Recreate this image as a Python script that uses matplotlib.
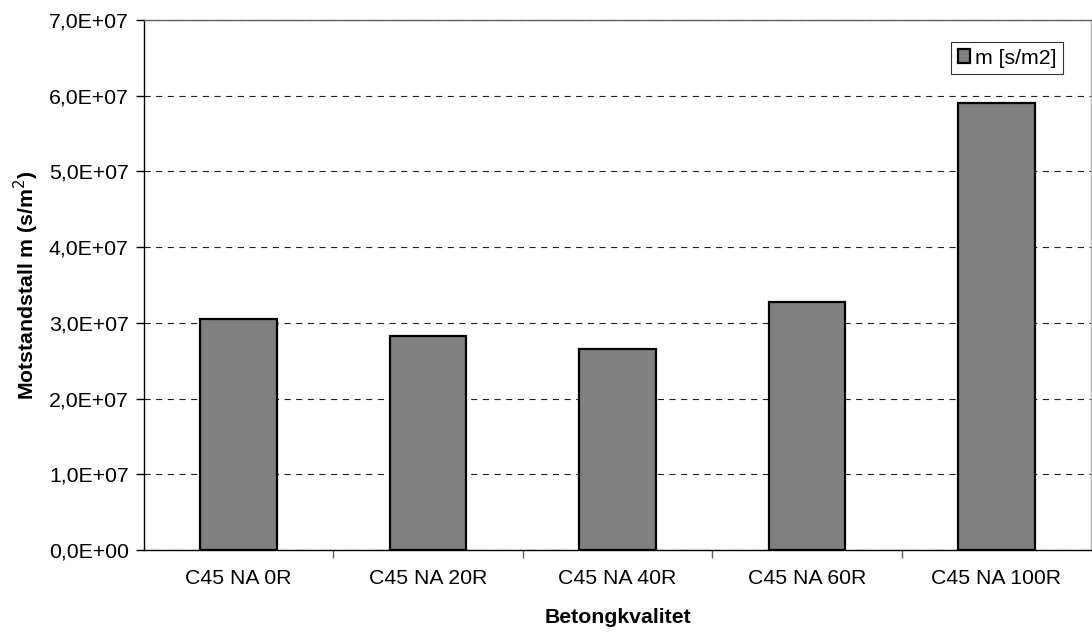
import matplotlib
matplotlib.use("Agg")
import matplotlib.pyplot as plt
from matplotlib.ticker import FuncFormatter, MultipleLocator, FixedLocator
import numpy as np

categories = ["C45 NA 0R", "C45 NA 20R", "C45 NA 40R", "C45 NA 60R", "C45 NA 100R"]
values = [3.05e7, 2.82e7, 2.65e7, 3.27e7, 5.90e7]
series_label = "m [s/m2]"

plt.rcParams['font.family'] = ['Liberation Sans', 'DejaVu Sans']
FS = 15.3

fig = plt.figure(figsize=(10.92, 6.32), dpi=100)
ax = fig.add_axes([144/1092, 1-550/632, (1091-144)/1092, (550-20)/632])

x = np.arange(len(categories))
ax.bar(x, values, width=0.405, color='#808080', edgecolor='black', linewidth=1.6,
       label=series_label, zorder=3)

ax.set_xlim(-0.5, len(categories)-0.5)
ax.set_ylim(0, 7e7)
ax.yaxis.set_major_locator(MultipleLocator(1e7))
ax.yaxis.set_major_formatter(FuncFormatter(lambda v, p: f"{v:.1E}".replace('.', ',')))
ax.yaxis.grid(True, color='#202020', linestyle=(0, (5.5, 5)), linewidth=0.8, zorder=0)

# category labels without ticks, ticks at category boundaries
ax.set_xticks(x)
ax.set_xticklabels(categories, fontsize=FS)
ax.tick_params(axis='x', which='major', length=0, pad=14)
ax.xaxis.set_minor_locator(FixedLocator(np.arange(0.5, len(categories)-0.5, 1.0)))
ax.tick_params(axis='x', which='minor', length=6, width=1, color='#606060', direction='out')
ax.tick_params(axis='y', labelsize=FS, length=6, width=1, direction='out', pad=5)

for s in ['left', 'bottom']:
    ax.spines[s].set_color('black')
    ax.spines[s].set_linewidth(1.0)
ax.spines['top'].set_color('#606060')
ax.spines['top'].set_linewidth(1.0)
ax.spines['right'].set_color('#b0b0b0')
ax.spines['right'].set_linewidth(1.0)

ax.set_ylabel("Motstandstall m (s/m$^2$)", fontsize=FS, fontweight='bold', labelpad=6)
ax.set_xlabel("Betongkvalitet", fontsize=FS, fontweight='bold', labelpad=14)

leg = ax.legend(loc='upper right', bbox_to_anchor=(0.970, 0.958), borderaxespad=0,
                fontsize=FS, frameon=True, fancybox=False, handlelength=0.6,
                handleheight=0.6, handletextpad=0.2, borderpad=0.3)
leg.get_frame().set_edgecolor('black')
leg.get_frame().set_linewidth(0.8)

fig.savefig("out.png", dpi=100)
